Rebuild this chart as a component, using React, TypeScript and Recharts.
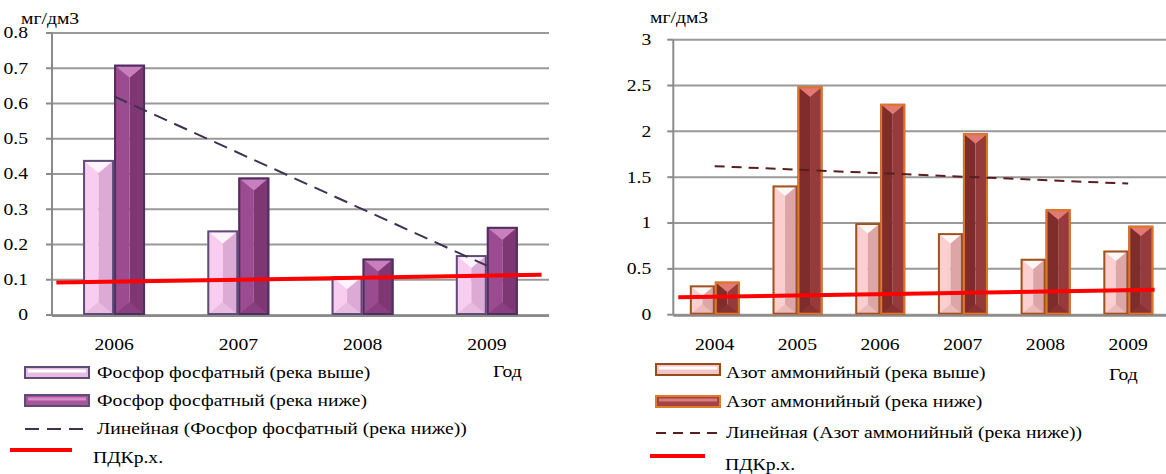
import {
  Bar,
  CartesianGrid,
  ComposedChart,
  Line,
  XAxis,
  YAxis,
} from "recharts";

const FONT = '"Liberation Serif", "Times New Roman", serif';
const STRETCH = 1.19;
const GRID = "#999999";
const AXIS = "#8a8a8a";

// Фосфор фосфатный, мг/дм3
const phosphateYears = ["2006", "2007", "2008", "2009"];
const phosphateAbove = [0.44, 0.24, 0.11, 0.17];
const phosphateBelow = [0.71, 0.39, 0.16, 0.25];
const phosphateTrend = [0.62, null, null, 0.14];
const phosphateTicks = [0, 0.1, 0.2, 0.3, 0.4, 0.5, 0.6, 0.7, 0.8];
const phosphateLimit = [0.092, 0.114];
const phosphateLimitAt = [0.035, 3.94];

// Азот аммонийный, мг/дм3
const ammoniumYears = ["2004", "2005", "2006", "2007", "2008", "2009"];
const ammoniumAbove = [0.32, 1.41, 1.0, 0.89, 0.61, 0.7];
const ammoniumBelow = [0.36, 2.49, 2.3, 1.98, 1.15, 0.97];
const ammoniumTrend = [1.62, null, null, null, null, 1.43];
const ammoniumTicks = [0, 0.5, 1, 1.5, 2, 2.5, 3];
const ammoniumLimit = [0.19, 0.272];
const ammoniumLimitAt = [0.06, 5.82];

const phosphateLegend = [
  "Фосфор фосфатный (река выше)",
  "Фосфор фосфатный (река ниже)",
  "Линейная (Фосфор фосфатный (река ниже))",
  "ПДКр.х.",
];
const ammoniumLegend = [
  "Азот аммонийный (река выше)",
  "Азот аммонийный (река ниже)",
  "Линейная (Азот аммонийный (река ниже))",
  "ПДКр.х.",
];

type Palette = {
  left: string;
  right: string;
  top: string;
  bottom: string;
  edge: string;
};

const lilacLight: Palette = {
  left: "#f8cdf0",
  right: "#dcaad4",
  top: "#fff3fd",
  bottom: "#e8bbe0",
  edge: "#5f4b78",
};
const lilacDark: Palette = {
  left: "#9b4b8f",
  right: "#7f3773",
  top: "#c87fbd",
  bottom: "#8a3f80",
  edge: "#4b3060",
};
const roseLight: Palette = {
  left: "#fbcfcf",
  right: "#dca6a6",
  top: "#fff6f6",
  bottom: "#ebbaba",
  edge: "#a0521e",
};
const brickDark: Palette = {
  left: "#7f2c2c",
  right: "#963b3b",
  top: "#e07a72",
  bottom: "#8a3232",
  edge: "#dd7628",
};

function buildRows(years: string[], above: number[], below: number[], trend: (number | null)[]) {
  return years.map((year, i) => ({
    year,
    above: above[i],
    below: below[i],
    trend: trend[i],
  }));
}

function buildLimit(values: number[], at: number[]) {
  return values.map((value, i) => ({ at: at[i], value }));
}

// bevelled column: light/dark halves with a triangular cap top and bottom
function BevelBar(props: any) {
  const { x, y, width, height, palette } = props;
  if (!(height > 0)) return null;
  const mid = x + width / 2;
  const cap = Math.min(width * 0.42, height / 2);
  return (
    <g>
      <rect x={x} y={y} width={width / 2} height={height} fill={palette.left} />
      <rect x={mid} y={y} width={width / 2} height={height} fill={palette.right} />
      <polygon
        points={`${x},${y} ${x + width},${y} ${mid},${y + cap}`}
        fill={palette.top}
      />
      <polygon
        points={`${x},${y + height} ${x + width},${y + height} ${mid},${y + height - cap}`}
        fill={palette.bottom}
      />
      <rect
        x={x + 1}
        y={y + 1}
        width={width - 2}
        height={height - 2}
        fill="none"
        stroke={palette.edge}
        strokeWidth={2}
      />
    </g>
  );
}

function WideText({
  x,
  y,
  anchor = "start",
  children,
}: {
  x: number;
  y: number;
  anchor?: "start" | "middle" | "end";
  children: any;
}) {
  return (
    <text
      transform={`translate(${x},${y}) scale(${STRETCH},1)`}
      textAnchor={anchor}
      dominantBaseline="central"
      style={{ fontFamily: FONT, fontSize: 16.5 }}
      fill="#000"
    >
      {children}
    </text>
  );
}

type ChartProps = {
  rows: any[];
  limitRows: any[];
  ticks: number[];
  width: number;
  margin: { top: number; right: number; bottom: number; left: number };
  axisWidth: number;
  tickGap: number;
  categoryGap: string;
  lightBar: Palette;
  darkBar: Palette;
  trendColor: string;
  trendDash: string;
};

function RiverChart(p: ChartProps) {
  const n = p.rows.length;
  const bounds = Array.from({ length: n + 1 }, (_, i) => i);
  return (
    <ComposedChart
      width={p.width}
      height={474}
      data={p.rows}
      margin={p.margin}
      barGap={0}
      barCategoryGap={p.categoryGap}
    >
      <CartesianGrid
        xAxisId="cat"
        vertical={false}
        stroke={GRID}
        strokeWidth={2}
      />
      {/* continuous twin of the year axis: carries the boundary tick marks and the limit line */}
      <XAxis
        xAxisId="span"
        dataKey="at"
        type="number"
        domain={[0, n]}
        ticks={bounds}
        tick={false}
        height={1}
        tickSize={6}
        axisLine={{ stroke: AXIS, strokeWidth: 2 }}
        tickLine={{ stroke: AXIS, strokeWidth: 2 }}
      />
      <XAxis
        xAxisId="cat"
        dataKey="year"
        height={1}
        axisLine={false}
        tickLine={false}
        tickSize={0}
        tickMargin={0}
        interval={0}
        tick={(t: any) => (
          <WideText x={t.x} y={t.y + 30} anchor="middle">
            {t.payload.value}
          </WideText>
        )}
      />
      <YAxis
        domain={[p.ticks[0], p.ticks[p.ticks.length - 1]]}
        ticks={p.ticks}
        interval={0}
        width={p.axisWidth}
        tickSize={6}
        tickMargin={p.tickGap}
        axisLine={{ stroke: AXIS, strokeWidth: 2 }}
        tickLine={{ stroke: AXIS, strokeWidth: 2 }}
        tick={(t: any) => (
          <WideText x={t.x} y={t.y} anchor="end">
            {String(t.payload.value)}
          </WideText>
        )}
      />
      <Bar
        xAxisId="cat"
        dataKey="above"
        isAnimationActive={false}
        shape={(b: any) => <BevelBar {...b} palette={p.lightBar} />}
      />
      <Bar
        xAxisId="cat"
        dataKey="below"
        isAnimationActive={false}
        shape={(b: any) => <BevelBar {...b} palette={p.darkBar} />}
      />
      <Line
        xAxisId="cat"
        dataKey="trend"
        connectNulls
        dot={false}
        activeDot={false}
        stroke={p.trendColor}
        strokeWidth={2}
        strokeDasharray={p.trendDash}
        isAnimationActive={false}
      />
      <Line
        xAxisId="span"
        data={p.limitRows}
        dataKey="value"
        dot={false}
        activeDot={false}
        stroke="#ff0000"
        strokeWidth={4}
        isAnimationActive={false}
      />
    </ComposedChart>
  );
}

function Swatch({ x, y, fill, stripe, edge }: { x: number; y: number; fill: string; stripe: string; edge: string }) {
  return (
    <g>
      <rect x={x} y={y} width={64} height={11} fill={fill} stroke={edge} strokeWidth={2} />
      <rect x={x + 3} y={y + 2.5} width={58} height={3} fill={stripe} />
    </g>
  );
}

function Annotations() {
  return (
    <svg
      width={1166}
      height={474}
      style={{ position: "absolute", left: 0, top: 0, pointerEvents: "none" }}
    >
      <WideText x={21} y={19}>мг/дм3</WideText>
      <WideText x={650} y={18}>мг/дм3</WideText>
      <WideText x={493} y={372}>Год</WideText>
      <WideText x={1109} y={375}>Год</WideText>

      {/* phosphate legend */}
      <Swatch x={25} y={367} fill="#e7bce0" stripe="#ffffff" edge="#5f4b78" />
      <WideText x={97} y={373}>{phosphateLegend[0]}</WideText>
      <Swatch x={25} y={395} fill="#a9559c" stripe="#d590ca" edge="#5f4b78" />
      <WideText x={97} y={401}>{phosphateLegend[1]}</WideText>
      <line x1={25} y1={429} x2={90} y2={429} stroke="#3f3151" strokeWidth={2} strokeDasharray="14 8" />
      <WideText x={97} y={429}>{phosphateLegend[2]}</WideText>
      <line x1={10} y1={450} x2={72} y2={450} stroke="#ff0000" strokeWidth={4} />
      <WideText x={93} y={458}>{phosphateLegend[3]}</WideText>

      {/* ammonium legend */}
      <Swatch x={656} y={364} fill="#f0c6c6" stripe="#ffffff" edge="#9a4b1a" />
      <WideText x={726} y={373}>{ammoniumLegend[0]}</WideText>
      <Swatch x={656} y={396} fill="#a04545" stripe="#dc7c78" edge="#e07b2a" />
      <WideText x={726} y={402}>{ammoniumLegend[1]}</WideText>
      <line x1={656} y1={433} x2={720} y2={433} stroke="#5a1e1e" strokeWidth={2} strokeDasharray="10 7" />
      <WideText x={726} y={433}>{ammoniumLegend[2]}</WideText>
      <line x1={650} y1={456} x2={705} y2={456} stroke="#ff0000" strokeWidth={4} />
      <WideText x={725} y={465}>{ammoniumLegend[3]}</WideText>
    </svg>
  );
}

export default function App() {
  const phosphateRows = buildRows(phosphateYears, phosphateAbove, phosphateBelow, phosphateTrend);
  const ammoniumRows = buildRows(ammoniumYears, ammoniumAbove, ammoniumBelow, ammoniumTrend);
  return (
    <div
      style={{
        position: "absolute",
        left: 0,
        top: 0,
        width: 1166,
        height: 474,
        overflow: "hidden",
        background: "#fff",
      }}
    >
      <div style={{ position: "absolute", left: 0, top: 0 }}>
        <RiverChart
          rows={phosphateRows}
          limitRows={buildLimit(phosphateLimit, phosphateLimitAt)}
          ticks={phosphateTicks}
          width={560}
          margin={{ top: 33, right: 11, bottom: 157, left: 12 }}
          axisWidth={40}
          tickGap={18}
          categoryGap="25%"
          lightBar={lilacLight}
          darkBar={lilacDark}
          trendColor="#3f3151"
          trendDash="14 8"
        />
      </div>
      <div style={{ position: "absolute", left: 600, top: 0 }}>
        <RiverChart
          rows={ammoniumRows}
          limitRows={buildLimit(ammoniumLimit, ammoniumLimitAt)}
          ticks={ammoniumTicks}
          width={580}
          margin={{ top: 39.7, right: 10.5, bottom: 157.3, left: 28.3 }}
          axisWidth={45}
          tickGap={16}
          categoryGap="20%"
          lightBar={roseLight}
          darkBar={brickDark}
          trendColor="#5a1e1e"
          trendDash="10 7"
        />
      </div>
      <Annotations />
    </div>
  );
}
